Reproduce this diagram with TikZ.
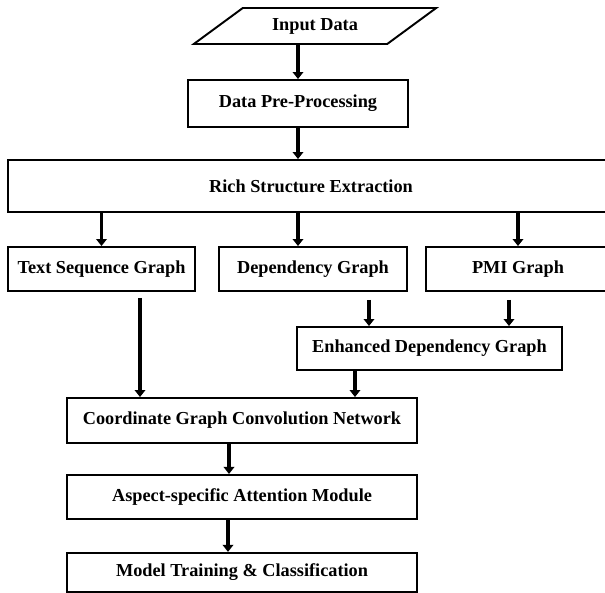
\documentclass[tikz,border=0pt]{standalone}
\usepackage{fontspec}
\setmainfont{Liberation Serif}
\usepackage{tikz}
\usetikzlibrary{arrows.meta,positioning,shapes.geometric}

\begin{document}
\begin{tikzpicture}[
			node distance=0.6cm,
			caja/.style={draw=black,line width=1.1pt,minimum height=0.88cm,align=center,inner sep=2pt,font=\fontsize{10.4}{12}\selectfont\bfseries},
			datos/.style={caja,trapezium,trapezium left angle=36,trapezium right angle=144,trapezium stretches=true,minimum width=4.88cm,minimum height=0.72cm},
			arr/.style={-{Triangle[width=6pt,length=4pt]},line width=2.1pt,black}
			]
			\useasboundingbox (0,0) rectangle (12.1,-11.84);
			\node[datos] (inp) at (6.30,-0.52) {Input Data};
			\node[caja,minimum width=4.40cm,minimum height=0.94cm] (pre) at (5.96,-2.07) {Data Pre-Processing};
			\node[caja,minimum width=12.12cm,minimum height=1.04cm] (rich) at (6.22,-3.72) {Rich Structure Extraction};
			\node[caja,minimum width=3.74cm] (txt) at (2.03,-5.38) {Text Sequence Graph};
			\node[caja,minimum width=3.76cm] (dep) at (6.26,-5.38) {Dependency Graph};
			\node[caja,minimum width=3.68cm] (pmi) at (10.36,-5.38) {PMI Graph};
			\node[caja,minimum width=5.30cm,minimum height=0.86cm] (enh) at (8.59,-6.97) {Enhanced Dependency Graph};
			\node[caja,minimum width=7.00cm,minimum height=0.90cm] (coord) at (4.84,-8.41) {Coordinate Graph Convolution Network};
			\node[caja,minimum width=7.00cm] (asp) [below=0.6cm of coord] {Aspect-specific Attention Module};
			\node[caja,minimum width=7.00cm,minimum height=0.78cm] (mod) [below=0.64cm of asp] {Model Training \& Classification};
			\draw[arr] (inp.south -| pre) -- (pre);
			\draw[arr] (pre) -- (pre |- rich.north);
			\draw[arr] (rich.south -| txt) -- (txt);
			\draw[arr] (rich.south -| pre) -- (dep.north -| pre);
			\draw[arr] (rich.south -| pmi) -- (pmi);
			\draw[arr,shorten <=0.12cm] ([xshift=0.77cm]txt.south) -- ([xshift=0.77cm]txt.south |- coord.north);
			\draw[arr,shorten <=0.16cm] ([xshift=-1.21cm]enh.north |- dep.south) -- ([xshift=-1.21cm]enh.north);
			\draw[arr,shorten <=0.16cm] ([xshift=1.59cm]enh.north |- pmi.south) -- ([xshift=1.59cm]enh.north);
			\draw[arr] ([xshift=-1.49cm]enh.south) -- ([xshift=-1.49cm]enh.south |- coord.north);
			\draw[arr] ([xshift=-0.26cm]coord.south) -- ([xshift=-0.26cm]coord.south |- asp.north);
			\draw[arr] ([xshift=-0.28cm]asp.south) -- ([xshift=-0.28cm]asp.south |- mod.north);
		\end{tikzpicture}
\end{document}
